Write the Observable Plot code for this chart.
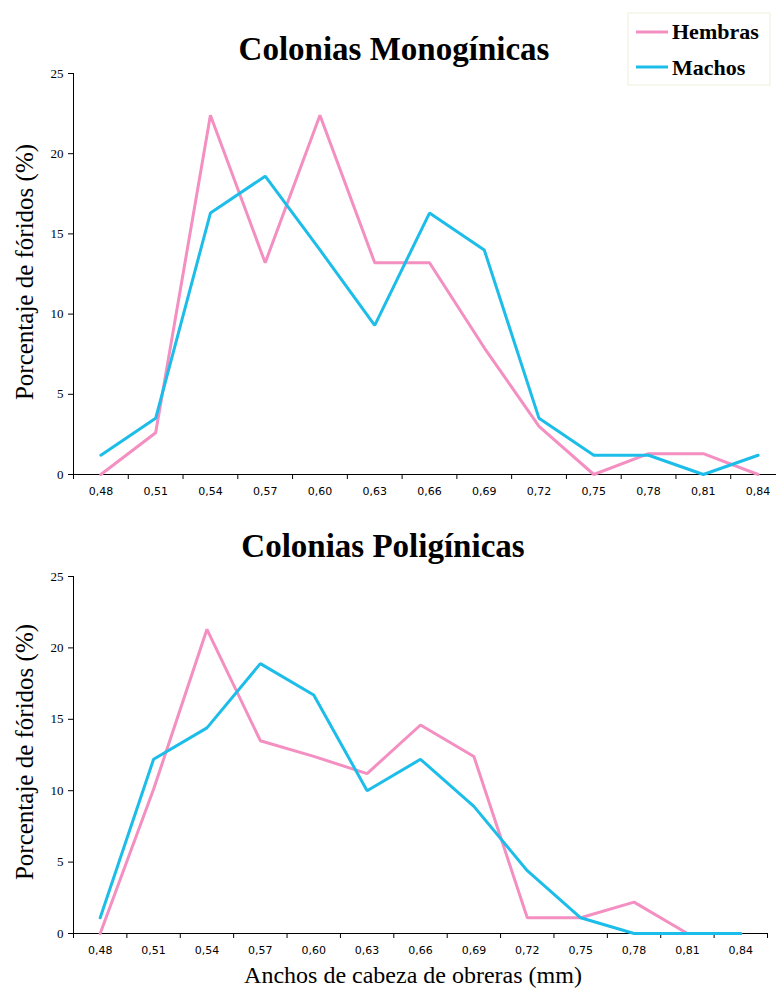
<!DOCTYPE html>
<html>
<head>
<meta charset="utf-8">
<script src="https://cdn.jsdelivr.net/npm/d3@7"></script>
<script src="https://cdn.jsdelivr.net/npm/@observablehq/plot@0.6"></script>
<style>
  html, body { margin: 0; padding: 0; background: #fff; }
  #wrap { position: relative; width: 776px; height: 999px; overflow: hidden; background: #fff; }
  .chart { position: absolute; left: 0; }
  #overlay { position: absolute; left: 0; top: 0; pointer-events: none; }
</style>
</head>
<body>
<div id="wrap">
  <div id="top" class="chart" style="top:0px"></div>
  <div id="bottom" class="chart" style="top:520px"></div>
  <svg id="overlay" width="776" height="999" xmlns="http://www.w3.org/2000/svg"></svg>
</div>
<script>
// ---- data ----
const anchos = [0.48, 0.51, 0.54, 0.57, 0.60, 0.63, 0.66, 0.69, 0.72, 0.75, 0.78, 0.81, 0.84];
const monoHembras = [0, 2.6, 22.4, 13.2, 22.4, 13.2, 13.2, 7.9, 3.0, 0, 1.3, 1.3, 0];
const monoMachos  = [1.2, 3.5, 16.3, 18.6, 14.0, 9.3, 16.3, 14.0, 3.5, 1.2, 1.2, 0, 1.2];
const poliHembras = [0, 10.1, 21.3, 13.5, 12.4, 11.2, 14.6, 12.4, 1.1, 1.1, 2.2, 0, 0];
const poliMachos  = [1.1, 12.2, 14.4, 18.9, 16.7, 10.0, 12.2, 8.9, 4.4, 1.1, 0, 0, 0];
const yTicks = [0, 5, 10, 15, 20, 25];
const seriesNames = ["Hembras", "Machos"];
const seriesColors = ["#F48FC1", "#1DBDE9"];
const titles = ["Colonias Monogínicas", "Colonias Poligínicas"];
const yLabel = "Porcentaje de fóridos (%)";
const xLabel = "Anchos de cabeza de obreras (mm)";

const half = 0.015;
const xDomain = [anchos[0] - half, anchos[anchos.length - 1] + half];
const boundaries = anchos.map(a => a - half).concat([anchos[anchos.length - 1] + half]);
const fmt = d => d.toFixed(2).replace(".", ",");

function makeChart(hembras, machos, opts) {
  const rows = [];
  anchos.forEach((a, i) => {
    rows.push({serie: seriesNames[0], ancho: a, pct: hembras[i]});
    rows.push({serie: seriesNames[1], ancho: a, pct: machos[i]});
  });
  return Plot.plot({
    width: 776,
    height: opts.height,
    marginLeft: 73,
    marginRight: opts.marginRight,
    marginTop: opts.marginTop,
    marginBottom: opts.marginBottom,
    style: {background: "transparent", overflow: "visible"},
    x: {type: "linear", domain: xDomain, range: opts.xRange},
    y: {domain: [0, 25]},
    marks: [
      Plot.ruleX([xDomain[0]], {y1: 0, y2: 25, stroke: "#000", strokeWidth: 1}),
      Plot.ruleY([0], {stroke: "#000", strokeWidth: 1}),
      Plot.axisY({ticks: yTicks, tickSize: 5, tickPadding: 5, label: null,
        fontFamily: "Liberation Serif", fontSize: 13, color: "#000"}),
      Plot.axisX({ticks: boundaries, tickSize: 5, tickFormat: () => "", label: null, color: "#000"}),
      Plot.axisX({ticks: anchos, tickSize: 0, tickPadding: 13, tickFormat: fmt, label: null,
        fontFamily: "DejaVu Sans", fontSize: 11, color: "#000"}),
      Plot.line(rows.filter(d => d.serie === seriesNames[0]),
        {x: "ancho", y: "pct", stroke: seriesColors[0], strokeWidth: 3, strokeLinejoin: "miter"}),
      Plot.line(rows.filter(d => d.serie === seriesNames[1]),
        {x: "ancho", y: "pct", stroke: seriesColors[1], strokeWidth: 3, strokeLinejoin: "miter"})
    ]
  });
}

document.getElementById("top").append(makeChart(monoHembras, monoMachos, {
  height: 500, marginTop: 73, marginBottom: 26, marginRight: 0, xRange: [73, 785]
}));
document.getElementById("bottom").append(makeChart(poliHembras, poliMachos, {
  height: 450, marginTop: 56, marginBottom: 37, marginRight: 9, xRange: [73, 767]
}));

// ---- titles, legend, axis labels ----
const ov = d3.select("#overlay");
ov.append("text").attr("x", 394).attr("y", 60).attr("text-anchor", "middle")
  .attr("font-family", "Liberation Serif").attr("font-weight", "bold").attr("font-size", 33)
  .text(titles[0]);
ov.append("text").attr("x", 383).attr("y", 557).attr("text-anchor", "middle")
  .attr("font-family", "Liberation Serif").attr("font-weight", "bold").attr("font-size", 33)
  .text(titles[1]);

[272, 752].forEach(cy => {
  ov.append("text").attr("transform", `translate(33,${cy}) rotate(-90)`).attr("text-anchor", "middle")
    .attr("font-family", "Liberation Serif").attr("font-size", 25).text(yLabel);
});
ov.append("text").attr("x", 413).attr("y", 983).attr("text-anchor", "middle")
  .attr("font-family", "Liberation Serif").attr("font-size", 24).text(xLabel);

const lg = ov.append("g");
lg.append("rect").attr("x", 628).attr("y", 13).attr("width", 142).attr("height", 72)
  .attr("fill", "#fff").attr("stroke", "#f1efdc").attr("stroke-width", 1);
seriesNames.forEach((name, i) => {
  const ly = [32, 67][i];
  lg.append("line").attr("x1", 636).attr("x2", 668).attr("y1", ly).attr("y2", ly)
    .attr("stroke", seriesColors[i]).attr("stroke-width", 3);
  lg.append("text").attr("x", 672).attr("y", [39, 75][i])
    .attr("font-family", "Liberation Serif").attr("font-weight", "bold").attr("font-size", 22)
    .text(name);
});
</script>
</body>
</html>
